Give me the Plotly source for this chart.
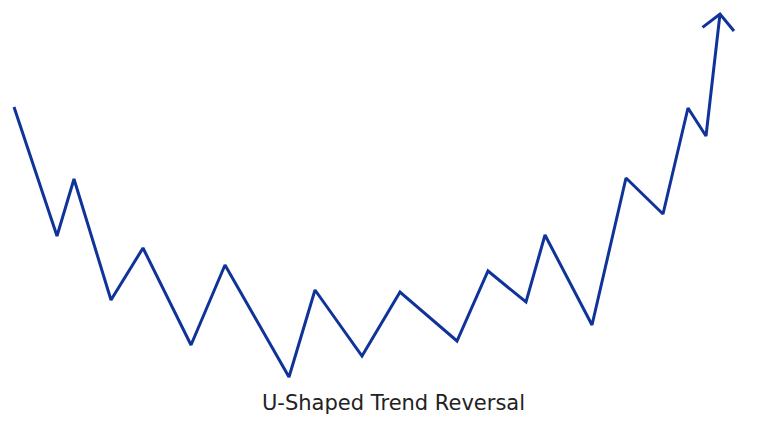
import numpy as np
import plotly.graph_objects as go

# Swing points of the price path (time position, price level)
time_pos = [14, 57, 74, 111, 143, 191, 225, 289, 315, 362, 400, 457, 488, 526, 545, 592, 626, 663, 688, 706, 720]
price = [338, 209, 266, 145, 197, 100, 180, 68, 155, 89, 153, 104, 174, 143, 210, 120, 267, 231, 337, 309, 431]
caption = "U-Shaped Trend Reversal"

W, H = 766, 445
OFF = 8  # page body margin
line_color = "#0f3399"

fig = go.Figure()
fig.add_trace(go.Scatter(x=time_pos, y=price, mode="lines",
                         line=dict(color=line_color, width=3),
                         hoverinfo="skip", showlegend=False))

# open chevron arrowhead derived from the last segment
x1, y1 = time_pos[-2], price[-2]
x2, y2 = time_pos[-1], price[-1]
d = np.array([x1 - x2, y1 - y2], dtype=float)
d /= np.linalg.norm(d)
L = 22
ang = np.deg2rad(46)
wings = []
for a in (ang, -ang):
    r = np.array([[np.cos(a), -np.sin(a)], [np.sin(a), np.cos(a)]])
    wings.append(r @ d * L)
ax_ = [x2 + wings[0][0], x2, x2 + wings[1][0]]
ay_ = [y2 + wings[0][1], y2, y2 + wings[1][1]]
fig.add_trace(go.Scatter(x=ax_, y=ay_, mode="lines",
                         line=dict(color=line_color, width=3),
                         hoverinfo="skip", showlegend=False))

fig.add_annotation(x=393, y=42, text=caption, showarrow=False,
                   font=dict(family="DejaVu Sans", size=21, color="#222222"),
                   xanchor="center", yanchor="middle")

fig.update_layout(
    width=W, height=H,
    margin=dict(l=0, r=0, t=0, b=0),
    paper_bgcolor="white", plot_bgcolor="white",
    xaxis=dict(range=[OFF, W + OFF], visible=False, fixedrange=True),
    yaxis=dict(range=[-OFF, H - OFF], visible=False, fixedrange=True),
)
fig.write_html("out.html")
